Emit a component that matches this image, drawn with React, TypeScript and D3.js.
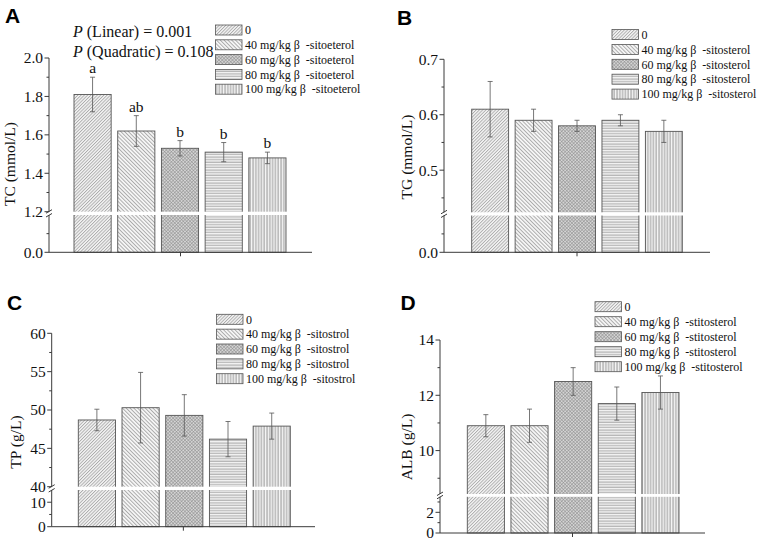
import React from "react";
import * as d3 from "d3";

// ---------- data ----------
const doses = ["0", "40", "60", "80", "100"];

const tcMean = [1.81, 1.62, 1.53, 1.51, 1.48];
const tcErr = [0.09, 0.08, 0.04, 0.05, 0.03];
const tcLetters = ["a", "ab", "b", "b", "b"];

const tgMean = [0.61, 0.59, 0.58, 0.59, 0.57];
const tgErr = [0.05, 0.02, 0.01, 0.01, 0.02];

const tpMean = [48.7, 50.3, 49.3, 46.2, 47.9];
const tpErr = [1.4, 4.6, 2.7, 2.3, 1.7];

const albMean = [10.9, 10.9, 12.5, 11.7, 12.1];
const albErr = [0.4, 0.6, 0.5, 0.6, 0.6];

const tcTicksUpper = [1.2, 1.4, 1.6, 1.8, 2.0];
const tcTicksLower = [0.0];
const tgTicksUpper = [0.5, 0.6, 0.7];
const tgTicksLower = [0.0];
const tpTicksUpper = [40, 45, 50, 55, 60];
const tpTicksLower = [0, 10];
const albTicksUpper = [10, 12, 14];
const albTicksLower = [0, 2];

const pLinear = "0.001";
const pQuadratic = "0.108";

const suffixA = "sitoeterol";
const suffixB = "sitosterol";
const suffixC = "sitostrol";
const suffixD = "stitosterol";

// ---------- layout ----------
const SERIF = "'Liberation Serif', 'Times New Roman', serif";
const SANS = "'Liberation Sans', Arial, sans-serif";
const AXIS = "#3a3a3a";
const OUTLINE = "#555";
const patIds = ["pat0", "pat1", "pat2", "pat3", "pat4"];

type PanelCfg = {
  label: string;
  labelX: number;
  labelY: number;
  axisX: number;
  axisRight: number;
  barsLeft: number;
  barsRight: number;
  domain: number[];
  range: number[];
  majorUpper: number[];
  minorUpper: number[];
  majorLower: number[];
  minorLower: number[];
  fmt: (v: number) => string;
  title: string;
  titleX: number;
  titleY: number;
  legendX: number;
  legendY: number;
  legendStep: number;
  suffix: string;
  mean: number[];
  err: number[];
  letters?: string[];
};

const panels: PanelCfg[] = [
  {
    label: "A", labelX: 5, labelY: 23,
    axisX: 49, axisRight: 312, barsLeft: 74, barsRight: 286,
    domain: [0, 0.2, 1.2, 2.0], range: [252.3, 215, 211.7, 58],
    majorUpper: tcTicksUpper, minorUpper: [1.3, 1.5, 1.7, 1.9],
    majorLower: tcTicksLower, minorLower: [0.1],
    fmt: d3.format(".1f"),
    title: "TC (mmol/L)", titleX: 14.5, titleY: 164,
    legendX: 215.5, legendY: 30, legendStep: 14.8, suffix: suffixA,
    mean: tcMean, err: tcErr, letters: tcLetters,
  },
  {
    label: "B", labelX: 397, labelY: 25,
    axisX: 444, axisRight: 710, barsLeft: 471.7, barsRight: 682.3,
    domain: [0, 0.2, 0.424, 0.7], range: [252.3, 215.5, 212.3, 59.3],
    majorUpper: tgTicksUpper, minorUpper: [0.45, 0.55, 0.65],
    majorLower: tgTicksLower, minorLower: [0.1],
    fmt: d3.format(".1f"),
    title: "TG (mmol/L)", titleX: 411.5, titleY: 157,
    legendX: 612, legendY: 34.5, legendStep: 14.9, suffix: suffixB,
    mean: tgMean, err: tgErr,
  },
  {
    label: "C", labelX: 7, labelY: 310,
    axisX: 51.7, axisRight: 315, barsLeft: 78.3, barsRight: 290.3,
    domain: [0, 15, 40, 60], range: [526.7, 490, 486.7, 333.3],
    majorUpper: tpTicksUpper, minorUpper: [42.5, 47.5, 52.5, 57.5],
    majorLower: tpTicksLower, minorLower: [5],
    fmt: d3.format("d"),
    title: "TP (g/L)", titleX: 21, titleY: 442,
    legendX: 216.5, legendY: 319.3, legendStep: 14.85, suffix: suffixC,
    mean: tpMean, err: tpErr,
  },
  {
    label: "D", labelX: 400.5, labelY: 310,
    axisX: 440, axisRight: 705, barsLeft: 467.3, barsRight: 679,
    domain: [0, 3.5, 8.43, 14], range: [533, 496.8, 494, 340],
    majorUpper: albTicksUpper, minorUpper: [9, 11, 13],
    majorLower: albTicksLower, minorLower: [1, 3],
    fmt: d3.format("d"),
    title: "ALB (g/L)", titleX: 412, titleY: 447,
    legendX: 595, legendY: 306.7, legendStep: 15, suffix: suffixD,
    mean: albMean, err: albErr,
  },
];

function Patterns() {
  return (
    <defs>
      <pattern id="pat0" patternUnits="userSpaceOnUse" width={2.3} height={10} patternTransform="rotate(45)">
        <rect width={2.3} height={10} fill="#f4f4f4" />
        <line x1={0.5} y1={0} x2={0.5} y2={10} stroke="#8a8a8a" strokeWidth={0.7} />
      </pattern>
      <pattern id="pat1" patternUnits="userSpaceOnUse" width={2.7} height={10} patternTransform="rotate(-45)">
        <rect width={2.7} height={10} fill="#f6f6f6" />
        <line x1={0.5} y1={0} x2={0.5} y2={10} stroke="#8a8a8a" strokeWidth={0.7} />
      </pattern>
      <pattern id="pat2" patternUnits="userSpaceOnUse" width={2.4} height={2.4} patternTransform="rotate(45)">
        <rect width={2.4} height={2.4} fill="#dadada" />
        <line x1={0.5} y1={0} x2={0.5} y2={2.4} stroke="#888" strokeWidth={0.55} />
        <line x1={0} y1={0.5} x2={2.4} y2={0.5} stroke="#888" strokeWidth={0.55} />
      </pattern>
      <pattern id="pat3" patternUnits="userSpaceOnUse" width={10} height={2.6}>
        <rect width={10} height={2.6} fill="#f6f6f6" />
        <line x1={0} y1={1} x2={10} y2={1} stroke="#858585" strokeWidth={0.8} />
      </pattern>
      <pattern id="pat4" patternUnits="userSpaceOnUse" width={2.8} height={10}>
        <rect width={2.8} height={10} fill="#f6f6f6" />
        <line x1={1} y1={0} x2={1} y2={10} stroke="#777" strokeWidth={0.8} />
      </pattern>
    </defs>
  );
}

function legendText(i: number, suffix: string) {
  return i === 0 ? "0" : `${doses[i]} mg/kg β  -${suffix}`;
}

function Panel({ p }: { p: PanelCfg }) {
  const y = d3.scaleLinear().domain(p.domain).range(p.range);
  const x = d3
    .scaleBand<string>()
    .domain(doses)
    .range([p.barsLeft, p.barsRight])
    .paddingInner(0.15)
    .paddingOuter(0);
  const yBase = y(0);
  const gapTop = y(p.domain[2]);
  const gapBottom = y(p.domain[1]);
  const yTop = y(p.domain[3]);
  const midX = (p.axisX + p.axisRight) / 2;
  const bw = x.bandwidth();

  return (
    <g>
      {doses.map((d, i) => (
        <rect
          key={"bar" + d}
          x={x(d)}
          y={y(p.mean[i])}
          width={bw}
          height={yBase - y(p.mean[i])}
          fill={`url(#${patIds[i]})`}
          stroke={OUTLINE}
          strokeWidth={0.9}
        />
      ))}
      {doses.map((d, i) => {
        const cx = (x(d) as number) + bw / 2;
        const t = y(p.mean[i] + p.err[i]);
        const b = y(p.mean[i] - p.err[i]);
        return (
          <g key={"err" + d} stroke="#555" strokeWidth={0.8}>
            <line x1={cx} x2={cx} y1={t} y2={b} />
            <line x1={cx - 2.5} x2={cx + 2.5} y1={t} y2={t} />
            <line x1={cx - 2.5} x2={cx + 2.5} y1={b} y2={b} />
          </g>
        );
      })}
      {p.letters &&
        doses.map((d, i) => (
          <text
            key={"let" + d}
            x={(x(d) as number) + bw / 2}
            y={y(p.mean[i] + p.err[i]) - 4}
            textAnchor="middle"
            fontFamily={SERIF}
            fontSize={15.5}
            fill="#111"
          >
            {p.letters![i]}
          </text>
        ))}
      <rect
        x={p.axisX - 0.5}
        y={gapTop}
        width={p.barsRight + 1.5 - p.axisX}
        height={gapBottom - gapTop}
        fill="#fff"
      />
      <g stroke={AXIS} strokeWidth={1}>
        <line x1={p.axisX} x2={p.axisX} y1={yTop} y2={gapTop} />
        <line x1={p.axisX} x2={p.axisX} y1={gapBottom} y2={yBase} />
        <line x1={p.axisX - 3} x2={p.axisX + 3} y1={gapTop + 1.5} y2={gapTop - 2} />
        <line x1={p.axisX - 3} x2={p.axisX + 3} y1={gapBottom + 2} y2={gapBottom - 1.5} />
        {[...p.majorUpper, ...p.majorLower].map((v) => (
          <line key={"M" + v} x1={p.axisX - 4.5} x2={p.axisX} y1={y(v)} y2={y(v)} />
        ))}
        {[...p.minorUpper, ...p.minorLower].map((v) => (
          <line key={"m" + v} x1={p.axisX - 2.5} x2={p.axisX} y1={y(v)} y2={y(v)} />
        ))}
        <line x1={p.axisX} x2={p.axisRight} y1={yBase} y2={yBase} />
        <line x1={midX} x2={midX} y1={yBase} y2={yBase + 4} />
      </g>
      {[...p.majorUpper, ...p.majorLower].map((v) => (
        <text
          key={"t" + v}
          x={p.axisX - 6}
          y={y(v)}
          dy="0.35em"
          textAnchor="end"
          fontFamily={SERIF}
          fontSize={15.5}
          fill="#111"
        >
          {p.fmt(v)}
        </text>
      ))}
      <text
        transform={`translate(${p.titleX},${p.titleY}) rotate(-90)`}
        textAnchor="middle"
        fontFamily={SERIF}
        fontSize={15.5}
        fill="#111"
      >
        {p.title}
      </text>
      <text x={p.labelX} y={p.labelY} fontFamily={SANS} fontWeight="bold" fontSize={21} fill="#000">
        {p.label}
      </text>
      {doses.map((d, i) => {
        const cy = p.legendY + i * p.legendStep;
        return (
          <g key={"leg" + d}>
            <rect
              x={p.legendX}
              y={cy - 5}
              width={26.5}
              height={10}
              fill={`url(#${patIds[i]})`}
              stroke={OUTLINE}
              strokeWidth={0.8}
            />
            <text
              x={p.legendX + 29.5}
              y={cy + 4.2}
              fontFamily={SERIF}
              fontSize={12}
              fill="#111"
              style={{ whiteSpace: "pre" }}
            >
              {legendText(i, p.suffix)}
            </text>
          </g>
        );
      })}
    </g>
  );
}

export default function App() {
  return (
    <svg
      width={759}
      height={540}
      viewBox="0 0 759 540"
      style={{ position: "absolute", left: 0, top: 0, background: "#fff" }}
    >
      <Patterns />
      <rect width={759} height={540} fill="#fff" />
      {panels.map((p) => (
        <Panel key={p.label} p={p} />
      ))}
      <text x={73} y={37} fontFamily={SERIF} fontSize={16} fill="#111">
        <tspan fontStyle="italic">P</tspan>
        {` (Linear) = ${pLinear}`}
      </text>
      <text x={73} y={56.5} fontFamily={SERIF} fontSize={16} fill="#111">
        <tspan fontStyle="italic">P</tspan>
        {` (Quadratic) = ${pQuadratic}`}
      </text>
    </svg>
  );
}
